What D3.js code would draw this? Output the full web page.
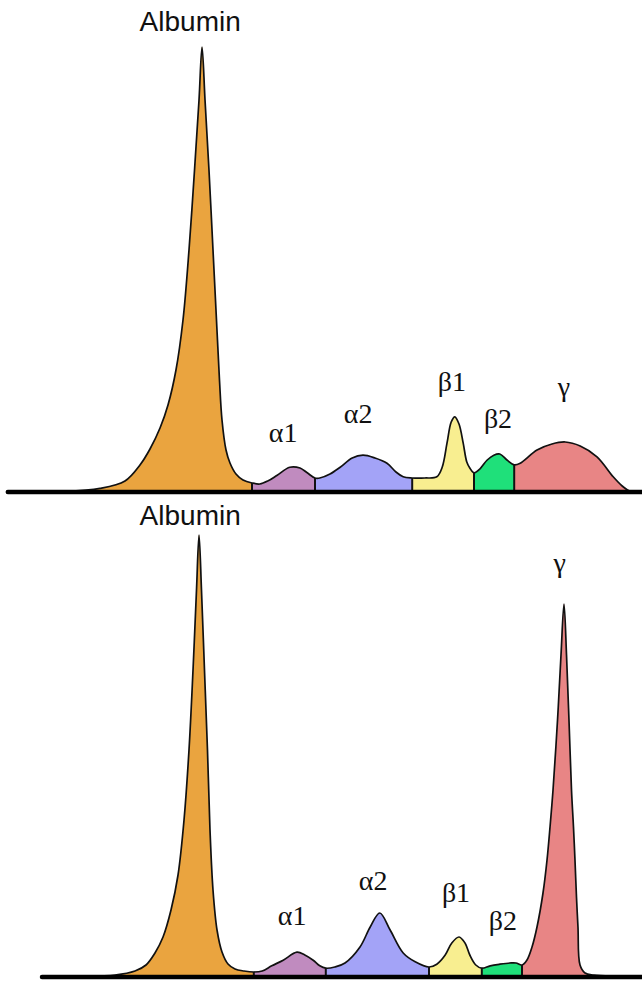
<!DOCTYPE html>
<html>
<head>
<meta charset="utf-8">
<script src="https://cdn.jsdelivr.net/npm/d3@7"></script>
<style>
  html, body { margin: 0; padding: 0; background: #fff; }
  svg { display: block; }
</style>
</head>
<body>
<svg id="chart" width="642" height="981"></svg>
<script>
var W = 642, H = 981;

// serum protein fractions
var fractions = ['Albumin', 'α1', 'α2', 'β1', 'β2', 'γ'];
var fracColours = ['#EAA43F', '#C08BBF', '#A3A3F7', '#F8EE90', '#1FE07A', '#E88585'];

// normal pattern : [migration, absorbance]
var normalTrace = [
  [1.3, 0], [10, 0.1], [16.67, 0.9], [20.83, 2.75], [23.33, 6.75], [25, 10.75],
  [26.67, 16], [28, 21.75], [29.33, 30.5], [30.5, 43], [31.5, 60.5], [32.42, 80.5],
  [33.17, 98], [33.67, 111.25],
  [34.17, 98], [34.83, 80.5], [35.5, 60.5], [36.08, 43], [36.58, 28], [37, 18],
  [37.67, 10.5], [38.33, 7.25], [39.33, 4.5], [40.5, 3], [42, 2.25],
  [43.3, 2], [44.7, 2.8], [46.2, 4.2], [48.3, 6.2], [50, 6], [51.2, 4.8], [52.5, 3.5],
  [53.3, 3.5], [55, 4.5], [56.7, 6.2], [58.7, 8.5], [60.5, 9.2], [62.5, 8.5],
  [64.5, 7.2], [66, 5], [67.2, 3.8], [68.7, 3.5],
  [70.8, 3.5], [72.8, 3.8], [73.7, 6.2], [74.5, 12.2], [75.2, 17.5], [75.8, 18.8],
  [76.5, 17], [77.2, 12.2], [77.8, 7.5], [78.3, 6], [79, 4.8],
  [80, 5.8], [81.2, 8], [82.3, 9.2], [83.3, 9.5], [84.5, 8], [85.7, 6.8],
  [86.7, 7.2], [89.5, 10.5], [92, 12], [94.2, 12.5], [96.7, 11.5], [99.5, 8.8],
  [102.2, 3.8], [103.7, 1.5], [105, 0.2], [107, 0]
];
var normalBounds = [42, 52.5, 68.7, 79, 85.7];

// polyclonal gamma pattern : [migration, absorbance]
var gammaTrace = [
  [7, 0], [13.33, 0.12], [19.17, 0.5], [22.5, 1.5], [24.33, 3], [25.83, 6],
  [27.17, 10], [28.5, 16.75], [29.67, 25.5], [30.67, 39.25], [31.5, 56.75],
  [32.17, 76.75], [32.75, 96.75], [33.17, 110.5],
  [33.58, 96.75], [34.08, 76.75], [34.58, 56.75], [35, 36.75], [35.5, 21.75],
  [36.17, 11.75], [37, 6.25], [38, 3.25], [39.17, 2], [40.67, 1.5], [42.3, 1.25],
  [43.7, 1.5], [45.3, 2.8], [47.2, 4.2], [49.5, 6.2], [50.8, 5.5], [52.2, 4.2],
  [53.3, 2.8], [54.3, 2.2],
  [55.8, 2.5], [57.5, 3.5], [60, 7.5], [61.7, 12.5], [63.3, 16], [65, 11.8],
  [67.2, 6], [69.2, 3.8], [71.5, 2.5],
  [72.8, 3.2], [74.2, 5.5], [75.3, 8.5], [76.5, 10], [77.5, 8.5], [78.3, 5.5],
  [79.3, 3], [80.3, 2.2],
  [81.7, 2.8], [83.3, 3.2], [85, 3.5], [86, 3.5], [87, 3],
  [87.83, 4.25], [88.67, 7.5], [89.5, 12.5], [90.5, 21], [91.17, 29.25],
  [91.67, 37.5], [92.17, 46.75], [92.92, 64.25], [93.5, 80.5], [94, 93.25],
  [94.42, 80.5], [94.83, 64.25], [95.25, 46.75], [95.58, 37.5], [95.83, 29.25],
  [96.08, 20], [96.33, 12.5], [96.67, 3], [97.5, 1], [99, 0.5], [107, 0.2]
];
var gammaBounds = [42.3, 54.3, 71.5, 80.3, 87];

var svg = d3.select('#chart');
svg.append('rect').attr('width', W).attr('height', H).attr('fill', '#fff');

var x = d3.scaleLinear().domain([0, 107]).range([0, W]);
var curve = d3.curveCatmullRom.alpha(0.5);

function heightAt(trace, mx) {
  var p = trace.find(d => d[0] === mx);
  return p ? p[1] : 0;
}

function drawPanel(id, trace, bounds, baseY, labelPos) {
  var y = d3.scaleLinear().domain([0, 100]).range([baseY, baseY - 400]);
  var g = svg.append('g').attr('id', id);
  var edges = [trace[0][0]].concat(bounds).concat([trace[trace.length - 1][0]]);

  var area = d3.area()
    .x(d => x(d[0]))
    .y0(y(0))
    .y1(d => y(d[1]))
    .curve(curve);
  var line = d3.line()
    .x(d => x(d[0]))
    .y(d => y(d[1]))
    .curve(curve);

  var defs = g.append('defs');
  fractions.forEach((f, i) => {
    defs.append('clipPath').attr('id', id + '-clip' + i)
      .append('rect')
      .attr('x', x(edges[i]))
      .attr('y', 0)
      .attr('width', x(edges[i + 1]) - x(edges[i]))
      .attr('height', H);
    g.append('path')
      .datum(trace)
      .attr('d', area)
      .attr('fill', fracColours[i])
      .attr('clip-path', 'url(#' + id + '-clip' + i + ')');
  });

  // fraction dividers
  g.selectAll('.divider')
    .data(bounds)
    .join('line')
    .attr('class', 'divider')
    .attr('x1', d => x(d)).attr('x2', d => x(d))
    .attr('y1', y(0)).attr('y2', d => y(heightAt(trace, d)))
    .attr('stroke', '#111')
    .attr('stroke-width', 2);

  // densitometry outline
  g.append('path')
    .datum(trace)
    .attr('d', line)
    .attr('fill', 'none')
    .attr('stroke', '#111')
    .attr('stroke-width', 1.7)
    .attr('stroke-linejoin', 'round');

  // baseline
  g.append('line')
    .attr('x1', x(trace[0][0])).attr('x2', x(107))
    .attr('y1', y(0)).attr('y2', y(0))
    .attr('stroke', '#000')
    .attr('stroke-width', 4.5)
    .attr('stroke-linecap', 'round');

  // labels
  g.selectAll('.lbl')
    .data(fractions)
    .join('text')
    .attr('class', 'lbl')
    .attr('x', (d, i) => x(labelPos[i][0]))
    .attr('y', (d, i) => y(labelPos[i][1]))
    .attr('text-anchor', 'middle')
    .attr('fill', '#111')
    .style('font-family', (d, i) => i === 0 ? '"Liberation Sans", Arial, sans-serif' : '"Liberation Serif", "DejaVu Serif", "Times New Roman", serif')
    .style('font-size', '28px')
    .text(d => d);
}

drawPanel('normal', normalTrace, normalBounds, 492,
  [[31.7, 115.2], [47.2, 12.5], [59.7, 17.2], [75.3, 25.2], [83, 16], [94, 24]]);
drawPanel('gamma', gammaTrace, gammaBounds, 977,
  [[31.7, 113], [48.7, 13], [62.2, 21.8], [76, 18.8], [83.8, 11.8], [93.3, 101.2]]);
</script>
</body>
</html>
